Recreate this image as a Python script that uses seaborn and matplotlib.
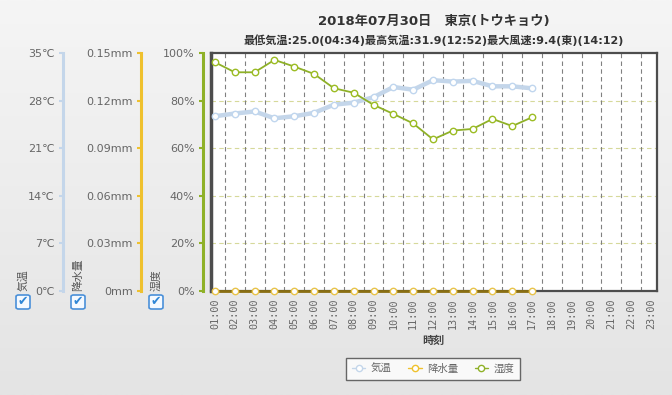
import numpy as np
import seaborn as sns
import pandas as pd
import matplotlib.pyplot as plt
from matplotlib.lines import Line2D
from matplotlib.patches import FancyBboxPatch

# data
hours = list(range(1, 18))
temperature = [25.7, 26.1, 26.4, 25.4, 25.7, 26.2, 27.4, 27.7, 28.5, 30.0, 29.6,
               31.0, 30.8, 30.9, 30.1, 30.1, 29.8]
precipitation = [0.0] * 17
humidity = [96.1, 91.9, 91.9, 97.1, 94.3, 91.2, 85.2, 83.3, 78.2, 74.4, 70.4,
            63.7, 67.4, 68.1, 72.3, 69.3, 73.0]
hour_ticks = list(range(1, 24))
hour_labels = ['%02d:00' % h for h in hour_ticks]
temp_ticks = [0, 7, 14, 21, 28, 35]
precip_ticks = [0, 0.03, 0.06, 0.09, 0.12, 0.15]
hum_ticks = [0, 20, 40, 60, 80, 100]

df = pd.DataFrame({'hour': hours, 'temp': temperature, 'rain': precipitation, 'hum': humidity})

sns.set_theme(style='white')
plt.rcParams['font.family'] = ['DejaVu Sans', 'Noto Sans CJK JP']

TEMP_C = '#c4d6ea'
RAIN_C = '#efc12e'
HUM_C = '#8fb128'
TXT = '#666666'

fig = plt.figure(figsize=(6.72, 3.95), dpi=100)

# gradient background
bg = fig.add_axes([0, 0, 1, 1], zorder=-10)
grad = np.linspace(0, 1, 256).reshape(-1, 1)
bg.imshow(grad, aspect='auto', cmap=plt.matplotlib.colors.LinearSegmentedColormap.from_list(
    'bg', ['#f5f5f5', '#e4e4e4']), extent=[0, 1, 0, 1])
bg.axis('off')

W, H = 672, 395
L, R, T, B = 211, 657, 53, 291
ax = fig.add_axes([L / W, 1 - B / H, (R - L) / W, (B - T) / H])
ax.set_facecolor('white')

# grid
for y in [20, 40, 60, 80]:
    ax.axhline(y, color='#d6d99a', lw=0.8, ls=(0, (4, 3)), zorder=0)
for x in np.arange(1.5, 23, 1):
    ax.axvline(x, color='#808080', lw=0.8, ls=(0, (4, 3)), zorder=0)

ax.set_xlim(0.8, 23.3)
ax.set_ylim(0, 100)
ax.set_xticks(hour_ticks)
ax.set_xticklabels(hour_labels, rotation=90, fontsize=7.3, color=TXT, family='DejaVu Sans Mono')
ax.tick_params(axis='x', length=0, pad=5)
ax.set_yticks([])
for s in ax.spines.values():
    s.set_color('#4d4d4d')
    s.set_linewidth(1.6)
ax.spines['left'].set_linewidth(2.5)

MS = 4.6

# temperature axis
ax_t = ax.twinx()
sns.lineplot(data=df, x='hour', y='temp', ax=ax_t, color=TEMP_C, lw=3.2, marker='o',
             markersize=MS, markerfacecolor='white', markeredgecolor='#c0d6ee', markeredgewidth=1)
ax_t.set_ylim(0, 35)
ax_t.set_yticks(temp_ticks)
ax_t.set_yticklabels(['%d℃' % v for v in temp_ticks])

# precipitation axis
ax_p = ax.twinx()
sns.lineplot(data=df, x='hour', y='rain', ax=ax_p, color='#8a6f12', lw=2, marker='o',
             markersize=MS, markerfacecolor='white', markeredgecolor='#e8c34a', markeredgewidth=1,
             clip_on=False)
ax_p.set_ylim(0, 0.15)
ax_p.set_yticks(precip_ticks)
ax_p.set_yticklabels(['0mm'] + ['%.2fmm' % v for v in precip_ticks[1:]])

# humidity axis
ax_h = ax.twinx()
sns.lineplot(data=df, x='hour', y='hum', ax=ax_h, color=HUM_C, lw=1.3, marker='o',
             markersize=MS, markerfacecolor='white', markeredgecolor='#9cbc24', markeredgewidth=1,
             clip_on=False)
ax_h.set_ylim(0, 100)
ax_h.set_yticks(hum_ticks)
ax_h.set_yticklabels(['%d%%' % v for v in hum_ticks])

for a, xpos, col in [(ax_t, 63, TEMP_C), (ax_p, 141, RAIN_C), (ax_h, 203, HUM_C)]:
    a.patch.set_visible(False)
    a.set_xlim(0.8, 23.3)
    a.set_xlabel('')
    a.set_ylabel('')
    for k in ['top', 'bottom', 'right']:
        a.spines[k].set_visible(False)
    a.spines['left'].set_visible(True)
    a.spines['left'].set_position(('axes', (xpos - L) / (R - L)))
    a.spines['left'].set_color(col)
    a.spines['left'].set_linewidth(2.2)
    a.yaxis.set_ticks_position('left')
    a.yaxis.set_label_position('left')
    a.tick_params(axis='y', length=3, width=1.5, color=col, labelsize=8,
                  labelcolor=TXT, pad=3)

# titles
fig.text(434 / W, 1 - 21 / H, '2018年07月30日　東京(トウキョウ)', ha='center', va='center',
         fontsize=9.5, fontweight='bold', color='#333333')
fig.text(434 / W, 1 - 40 / H, '最低気温:25.0(04:34)最高気温:31.9(12:52)最大風速:9.4(東)(14:12)',
         ha='center', va='center', fontsize=8, fontweight='bold', color='#333333')
fig.text(433 / W, 1 - 341 / H, '時刻', ha='center', va='center', fontsize=8,
         fontweight='bold', color='#444444')

# legend
handles = [
    Line2D([0], [0], color=TEMP_C, lw=1, marker='o', markersize=4.5,
           markerfacecolor='white', markeredgecolor=TEMP_C, label='気温'),
    Line2D([0], [0], color=RAIN_C, lw=1, marker='o', markersize=4.5,
           markerfacecolor='white', markeredgecolor=RAIN_C, label='降水量'),
    Line2D([0], [0], color=HUM_C, lw=1, marker='o', markersize=4.5,
           markerfacecolor='white', markeredgecolor=HUM_C, label='湿度'),
]
leg = fig.legend(handles=handles, loc='center', bbox_to_anchor=(433 / W, 1 - 369 / H),
                 ncol=3, fontsize=7.5, frameon=True, fancybox=False, handlelength=1.3,
                 handletextpad=0.5, columnspacing=1.6, borderpad=0.6)
leg.get_frame().set_edgecolor('#444444')
leg.get_frame().set_linewidth(1)
for t in leg.get_texts():
    t.set_color(TXT)

# checkboxes with rotated labels
for cx, label in [(23, '気温'), (78, '降水量'), (156, '湿度')]:
    box = FancyBboxPatch(((cx - 7) / W, 1 - 309 / H), 14 / W, 14 / H,
                         boxstyle='round,pad=0,rounding_size=0.004', transform=fig.transFigure,
                         facecolor='#f4f9ff', edgecolor='#4a90d9', lw=1.2)
    fig.add_artist(box)
    fig.text(cx / W, 1 - 302 / H, '✔', ha='center', va='center', fontsize=9,
             color='#2f86d6', family='DejaVu Sans')
    fig.text(cx / W, 1 - 291 / H, label, ha='center', va='bottom', rotation=90,
             fontsize=7.8, color='#555555')

plt.savefig('out.png', dpi=100)
